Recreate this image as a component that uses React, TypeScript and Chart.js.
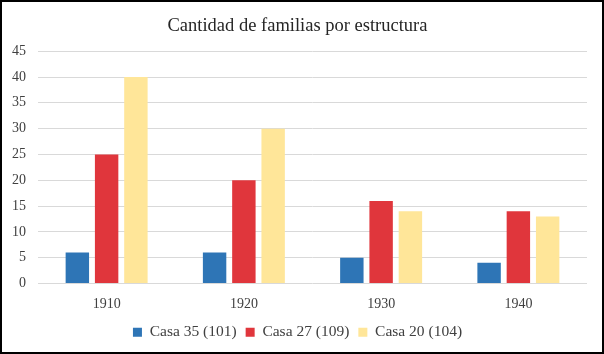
import React, { useEffect, useRef } from "react";
import { Chart, registerables } from "chart.js";

Chart.register(...registerables);

const categories = ["1910", "1920", "1930", "1940"];
const casa35 = [6, 6, 5, 4];
const casa27 = [25, 20, 16, 14];
const casa20 = [40, 30, 14, 13];
const seriesLabels = ["Casa 35 (101)", "Casa 27 (109)", "Casa 20 (104)"];
const titleText = "Cantidad de familias por estructura";

const FONT = "'Liberation Serif', 'Times New Roman', serif";

export default function App() {
  const ref = useRef<HTMLCanvasElement>(null);
  useEffect(() => {
    document.body.style.margin = "0";
    const ctx = ref.current!;
    const chart = new Chart(ctx, {
      type: "bar",
      data: {
        labels: categories,
        datasets: [
          { label: seriesLabels[0], data: casa35, backgroundColor: "#2E75B6" },
          { label: seriesLabels[1], data: casa27, backgroundColor: "#E0363C" },
          { label: seriesLabels[2], data: casa20, backgroundColor: "#FFE699" },
        ],
      },
      options: {
        responsive: false,
        animation: false,
        maintainAspectRatio: false,
        datasets: { bar: { categoryPercentage: 0.64, barPercentage: 0.8 } },
        layout: { padding: { left: 6, right: 15, top: 4, bottom: 2 } },
        plugins: {
          title: {
            display: true,
            text: titleText,
            color: "#262626",
            font: { family: FONT, size: 18.5, weight: "normal" },
            padding: { top: 9, bottom: 14 },
          },
          legend: {
            position: "bottom",
            labels: {
              boxWidth: 9,
              boxHeight: 9,
              color: "#404040",
              font: { family: FONT, size: 15.5 },
              padding: 9,
            },
          },
          tooltip: { enabled: false },
        },
        scales: {
          x: {
            grid: { display: false },
            border: { display: false },
            ticks: { color: "#404040", font: { family: FONT, size: 14 }, padding: 4 },
            afterFit: (s: any) => { s.height = 32; },
          },
          y: {
            min: 0,
            max: 45,
            ticks: { stepSize: 5, color: "#404040", font: { family: FONT, size: 14 }, padding: 12 },
            grid: { color: "#D9D9D9", drawTicks: false },
            border: { display: false },
            afterFit: (s: any) => { s.width = 30; },
          },
        },
      },
    });
    return () => chart.destroy();
  }, []);
  return (
    <div style={{ width: 604, height: 354, boxSizing: "border-box", border: "2px solid #000", background: "#fff" }}>
      <canvas ref={ref} width={600} height={350} style={{ display: "block" }} />
    </div>
  );
}
